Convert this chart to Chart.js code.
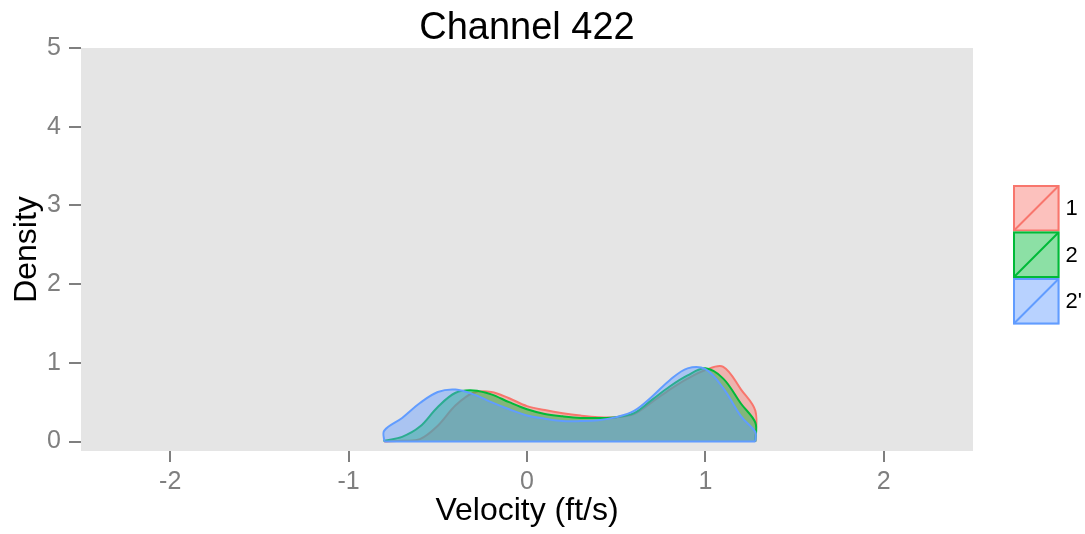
<!DOCTYPE html>
<html>
<head>
<meta charset="utf-8">
<script src="https://cdn.jsdelivr.net/npm/chart.js@4"></script>
<style>
  html, body { margin: 0; padding: 0; background: #fff; overflow: hidden; }
  #wadah { width: 1085px; height: 534px; }
</style>
</head>
<body>
<div id="wadah"><canvas id="grafikDensitas"></canvas></div>
<script>
  var kecepatan = [-0.8, -0.7, -0.6, -0.5, -0.4, -0.3, -0.2, -0.1, 0, 0.1, 0.2, 0.3, 0.4, 0.5, 0.6, 0.7, 0.8, 0.9, 1.0, 1.1, 1.2, 1.28];
  var grup = ["1", "2", "2'"];
  var densitas1 = [0.00, 0.01, 0.03, 0.20, 0.46, 0.62, 0.63, 0.55, 0.45, 0.40, 0.36, 0.33, 0.31, 0.31, 0.35, 0.50, 0.66, 0.80, 0.91, 0.95, 0.66, 0.39];
  var densitas2 = [0.01, 0.06, 0.19, 0.44, 0.62, 0.65, 0.60, 0.50, 0.41, 0.35, 0.32, 0.30, 0.30, 0.31, 0.36, 0.53, 0.70, 0.84, 0.93, 0.80, 0.48, 0.24];
  var densitas3 = [0.14, 0.30, 0.49, 0.63, 0.66, 0.60, 0.50, 0.41, 0.33, 0.29, 0.26, 0.26, 0.27, 0.31, 0.39, 0.57, 0.78, 0.93, 0.92, 0.68, 0.32, 0.12];
  var tickX = [-2, -1, 0, 1, 2];
  var tickY = [0, 1, 2, 3, 4, 5];

  var warna = ["248,118,109", "0,186,56", "97,156,255"];
  var huruf = "'Liberation Sans', Arial, sans-serif";

  function titik(nilai) {
    var hasil = [{ x: kecepatan[0], y: 0 }];
    kecepatan.forEach(function(v, i) {
      hasil.push({ x: v, y: nilai[i] });
    });
    hasil.push({ x: kecepatan[kecepatan.length - 1], y: 0 });
    return hasil;
  }

  var dataset = [densitas1, densitas2, densitas3].map(function(d, i) {
    return {
      label: grup[i],
      data: titik(d),
      borderColor: "rgb(" + warna[i] + ")",
      backgroundColor: "rgba(" + warna[i] + ",0.45)",
      borderWidth: 2,
      pointRadius: 0,
      fill: "origin",
      tension: 0.35,
      order: 3 - i
    };
  });

  // garis dasar poligon biru
  dataset.push({
    label: "",
    data: [{ x: kecepatan[0], y: 0 }, { x: kecepatan[kecepatan.length - 1], y: 0 }],
    borderColor: "rgb(" + warna[2] + ")",
    borderWidth: 2,
    pointRadius: 0,
    fill: false,
    order: 0
  });

  var latarPanel = {
    id: "latarPanel",
    beforeDraw: function(chart) {
      var a = chart.chartArea;
      var ctx = chart.ctx;
      ctx.save();
      ctx.fillStyle = "#E5E5E5";
      ctx.fillRect(a.left, a.top, a.right - a.left, a.bottom - a.top);
      ctx.restore();
    }
  };

  // judul di tengah panel, bukan di tengah kanvas
  var judul = {
    id: "judul",
    afterDraw: function(chart) {
      var a = chart.chartArea;
      var ctx = chart.ctx;
      ctx.save();
      ctx.fillStyle = "#000";
      ctx.font = "38px " + huruf;
      ctx.textAlign = "center";
      ctx.textBaseline = "alphabetic";
      ctx.fillText("Channel 422", (a.left + a.right) / 2, 39);
      ctx.restore();
    }
  };

  var legendaKotak = {
    id: "legendaKotak",
    afterDraw: function(chart) {
      var ctx = chart.ctx;
      var x = 1013, y = 185, s = 46.5;
      ctx.save();
      chart.data.datasets.forEach(function(ds) {
        if (!ds.label) return;
        ctx.fillStyle = "#fff";
        ctx.fillRect(x, y, s, s);
        ctx.fillStyle = ds.backgroundColor;
        ctx.fillRect(x, y, s, s);
        ctx.strokeStyle = ds.borderColor;
        ctx.lineWidth = 2;
        ctx.strokeRect(x + 1, y + 1, s - 2, s - 2);
        ctx.beginPath();
        ctx.moveTo(x + 1, y + s - 1);
        ctx.lineTo(x + s - 1, y + 1);
        ctx.stroke();
        ctx.fillStyle = "#000";
        ctx.font = "22px " + huruf;
        ctx.textAlign = "left";
        ctx.textBaseline = "middle";
        ctx.fillText(ds.label, x + s + 6, y + s / 2 + 1);
        y += s;
      });
      ctx.restore();
    }
  };

  var ctx = document.getElementById("grafikDensitas").getContext("2d");

  new Chart(ctx, {
    type: "line",
    data: { datasets: dataset },
    plugins: [latarPanel, judul, legendaKotak],
    options: {
      responsive: true,
      maintainAspectRatio: false,
      animation: false,
      layout: { padding: { left: 0, right: 112, top: 48, bottom: 0 } },
      plugins: {
        legend: { display: false },
        tooltip: { enabled: false },
        title: { display: false }
      },
      scales: {
        x: {
          type: "linear",
          min: -2.5,
          max: 2.5,
          afterBuildTicks: function(s) {
            s.ticks = tickX.map(function(v) { return { value: v }; });
          },
          afterFit: function(s) { s.height = 83; },
          ticks: { color: "#7F7F7F", font: { family: huruf, size: 25 }, padding: 5, maxRotation: 0 },
          grid: { drawOnChartArea: false, drawTicks: true, tickLength: 11, color: "#7F7F7F", lineWidth: 2 },
          border: { display: false },
          title: {
            display: true,
            text: "Velocity (ft/s)",
            color: "#000",
            font: { family: huruf, size: 32 },
            padding: { top: 0, bottom: 4 }
          }
        },
        y: {
          min: -0.12,
          max: 5,
          afterBuildTicks: function(s) {
            s.ticks = tickY.map(function(v) { return { value: v }; });
          },
          afterFit: function(s) { s.width = 81; },
          ticks: { color: "#7F7F7F", font: { family: huruf, size: 25 }, padding: 8 },
          grid: { drawOnChartArea: false, drawTicks: true, tickLength: 12, color: "#7F7F7F", lineWidth: 2 },
          border: { display: false },
          title: {
            display: true,
            text: "Density",
            color: "#000",
            font: { family: huruf, size: 32 },
            padding: { top: 8, bottom: 0 }
          }
        }
      }
    }
  });
</script>
</body>
</html>
